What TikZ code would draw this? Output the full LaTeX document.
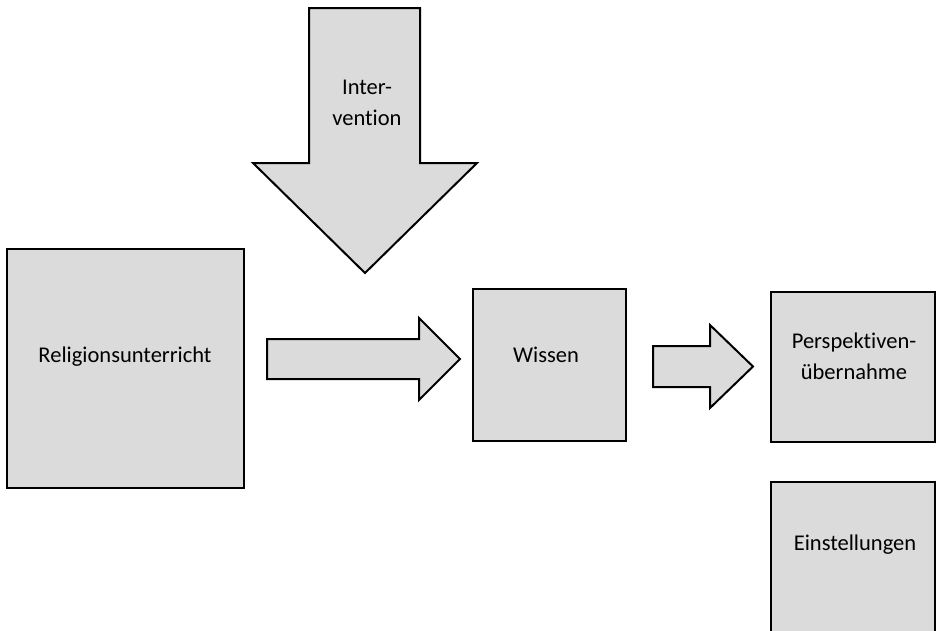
\documentclass[tikz,border=0pt]{standalone}
\usepackage{fontspec}
\setmainfont[Ligatures=NoCommon,RawFeature={-liga;-clig;-dlig}]{Carlito}
\begin{document}
\begin{tikzpicture}[x=1pt, y=-1pt,
   box/.style={draw, line width=2pt, fill=gray!28, inner sep=0pt},
   lbl/.style={align=center, font=\fontsize{22.5}{31}\selectfont},
   arr/.style={draw, line width=2pt, fill=gray!28, line join=miter}]
   \useasboundingbox (0,0) rectangle (937,630);
   % boxes
   \node[box, minimum width=237pt, minimum height=239pt] (rel) at (125.5,368.5) {};
   \node[box, minimum width=153pt, minimum height=152pt] (wis) at (549.5,365) {};
   \node[box, minimum width=164pt, minimum height=150pt] (per) at (853,367) {};
   \node[box, minimum width=164pt, minimum height=158pt] (ein) at (853,561) {};
   % arrows
   \draw[arr] (309,8) -- (420,8) -- (420,163) -- (477,163) -- (365,273)
      -- (253,163) -- (309,163) -- cycle;
   \foreach \xa/\xh/\xt/\yc/\s/\h in
     {267/419/460/359/20/41,
      653/710/753/366.5/20.5/41.5}
     \draw[arr] (\xa,\yc-\s) -- (\xh,\yc-\s) -- (\xh,\yc-\h) -- (\xt,\yc)
        -- (\xh,\yc+\h) -- (\xh,\yc+\s) -- (\xa,\yc+\s) -- cycle;
   % texts
   \node[lbl] (int) at (367,103) {Inter-\\vention};
   \node[lbl] (rel-t) at (125,357) {Religionsunterricht};
   \node[lbl] (wis-t) at (546,355) {Wissen};
   \node[lbl] (per-t) at (854,356) {Perspektiven-\\übernahme};
   \node[lbl] (ein-t) at (855,545) {Einstellungen};
\end{tikzpicture}
\end{document}
